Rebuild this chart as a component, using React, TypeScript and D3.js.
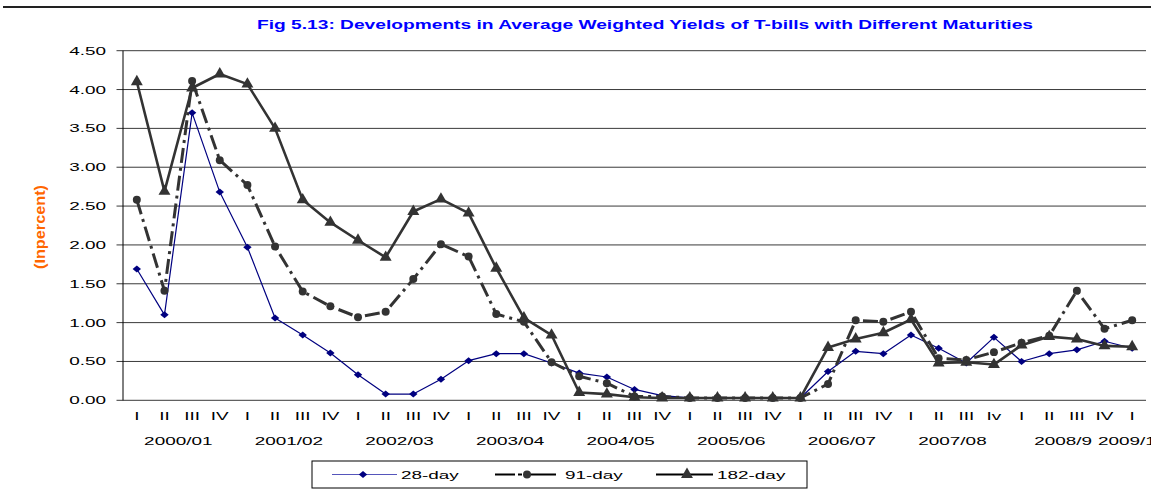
import React from "react";
import * as d3 from "d3";

document.body.style.margin = "0";

const quarterLabels = [
  "I", "II", "III", "IV",
  "I", "II", "III", "IV",
  "I", "II", "III", "IV",
  "I", "II", "III", "IV",
  "I", "II", "III", "IV",
  "I", "II", "III", "IV",
  "I", "II", "III", "IV",
  "I", "II", "III", "Iv",
  "I", "II", "III", "IV",
  "I",
];
const yearLabels = [
  "2000/01", "2001/02", "2002/03", "2003/04", "2004/05",
  "2005/06", "2006/07", "2007/08", "2008/9", "2009/10",
];
const yield28 = [
  1.69, 1.10, 3.70, 2.68, 1.97, 1.06, 0.84, 0.61, 0.33, 0.08, 0.08, 0.27,
  0.51, 0.60, 0.60, 0.48, 0.35, 0.30, 0.14, 0.06, 0.03, 0.03, 0.03, 0.03,
  0.03, 0.37, 0.63, 0.60, 0.84, 0.67, 0.48, 0.81, 0.50, 0.60, 0.65, 0.76, 0.67,
];
const yield91 = [
  2.58, 1.41, 4.11, 3.09, 2.77, 1.98, 1.40, 1.21, 1.07, 1.14, 1.56, 2.01,
  1.85, 1.11, 1.01, 0.49, 0.31, 0.22, 0.05, 0.05, 0.03, 0.03, 0.03, 0.03,
  0.03, 0.21, 1.03, 1.01, 1.14, 0.54, 0.52, 0.62, 0.74, 0.83, 1.41, 0.92, 1.03,
];
const yield182 = [
  4.10, 2.69, 4.02, 4.20, 4.07, 3.50, 2.58, 2.29, 2.06, 1.84, 2.43, 2.59,
  2.41, 1.70, 1.06, 0.84, 0.10, 0.08, 0.04, 0.03, 0.03, 0.03, 0.03, 0.03,
  0.03, 0.68, 0.79, 0.87, 1.04, 0.48, 0.49, 0.46, 0.71, 0.82, 0.79, 0.70, 0.69,
];
const yTicks = [0, 0.5, 1, 1.5, 2, 2.5, 3, 3.5, 4, 4.5];
const seriesNames = ["28-day", "91-day", "182-day"];

const W = 1151;
const H = 492;
const FONT = "'Liberation Sans', Arial, sans-serif";
const SX = 1.72;

function SText({ x, y, anchor = "start", size = 11, children, fill = "#000" }: any) {
  return (
    <text
      transform={`translate(${x},${y}) scale(${SX},1)`}
      textAnchor={anchor}
      fontSize={size}
      fontFamily={FONT}
      fill={fill}
    >
      {children}
    </text>
  );
}

const wideDiamond = {
  draw(ctx: any, size: number) {
    const h = Math.sqrt(size) / 2;
    const w = h * 1.2;
    ctx.moveTo(0, -h);
    ctx.lineTo(w, 0);
    ctx.lineTo(0, h);
    ctx.lineTo(-w, 0);
    ctx.closePath();
  },
};

export default function App() {
  const left = 123;
  const right = 1146;
  const top = 50.7;
  const bottom = 400.3;

  const x = d3
    .scaleBand<number>()
    .domain(d3.range(quarterLabels.length))
    .range([left, right]);
  const cx = (i: number) => (x(i) as number) + x.bandwidth() / 2;
  const y = d3.scaleLinear().domain([0, 4.5]).range([bottom, top]);

  const line = d3
    .line<number>()
    .x((_, i) => cx(i))
    .y((d) => y(d));

  const diamond = d3.symbol().type(wideDiamond as any).size(49)();
  const circle = d3.symbol().type(d3.symbolCircle).size(50)();
  const triangle = d3.symbol().type(d3.symbolTriangle).size(62)();

  const dark = "#333333";
  const navy = "#000080";
  const dash91 = "15,5,3,5";

  const series = [
    { data: yield28, color: navy, width: 1.2, dash: undefined, sym: diamond },
    { data: yield91, color: dark, width: 3, dash: dash91, sym: circle },
    { data: yield182, color: dark, width: 2.6, dash: undefined, sym: triangle },
  ];

  const fmt = d3.format(".2f");

  const legTop = 461;
  const legBottom = 488;
  const legY = (legTop + legBottom) / 2;
  const legItems = [
    { x1: 332, x2: 397, m: 363, tx: 401 },
    { x1: 495, x2: 559, m: 527, tx: 565 },
    { x1: 656, x2: 713, m: 687, tx: 717 },
  ];

  return (
    <svg width={W} height={H} style={{ display: "block" }}>
      <rect x={0} y={0} width={W} height={H} fill="#fff" />
      <line x1={3} x2={W} y1={7} y2={7} stroke="#222" strokeWidth={2} />

      <text
        x={257}
        y={29}
        fontFamily={FONT}
        fontWeight="bold"
        fontSize={12}
        fill="#0000ff"
        textLength={776}
        lengthAdjust="spacingAndGlyphs"
      >
        Fig 5.13: Developments in Average Weighted Yields of T-bills with Different Maturities
      </text>

      <text
        transform={`translate(45,227) rotate(-90)`}
        textAnchor="middle"
        fontFamily={FONT}
        fontWeight="bold"
        fontSize={14}
        fill="#ff6600"
        textLength={84}
        lengthAdjust="spacingAndGlyphs"
      >
        (Inpercent)
      </text>

      {yTicks.map((t) => (
        <g key={t}>
          <line
            x1={116.5}
            x2={right}
            y1={y(t)}
            y2={y(t)}
            stroke="#3a3a3a"
            strokeWidth={1}
          />
          <SText x={106} y={y(t) + 4} anchor="end">
            {fmt(t)}
          </SText>
        </g>
      ))}
      <line x1={left} x2={left} y1={top} y2={bottom} stroke="#000" strokeWidth={1} />

      {quarterLabels.map((q, i) => (
        <SText key={i} x={cx(i)} y={420} anchor="middle">
          {q}
        </SText>
      ))}
      {yearLabels.map((yl, g) => {
        const first = g * 4;
        const last = Math.min(first + 3, quarterLabels.length - 1);
        const c = (cx(first) + cx(last)) / 2;
        return (
          <SText key={yl} x={c} y={444.5} anchor="middle">
            {yl}
          </SText>
        );
      })}

      {series.map((s, k) => (
        <g key={k}>
          <path
            d={line(s.data) || ""}
            fill="none"
            stroke={s.color}
            strokeWidth={s.width}
            strokeDasharray={s.dash}
            strokeLinejoin="round"
          />
          {s.data.map((v, i) => (
            <path
              key={i}
              d={s.sym || ""}
              transform={`translate(${cx(i)},${y(v)})`}
              fill={s.color}
            />
          ))}
        </g>
      ))}

      <rect
        x={312}
        y={legTop}
        width={495}
        height={legBottom - legTop}
        fill="#fff"
        stroke="#000"
        strokeWidth={1}
      />
      {legItems.map((it, k) => {
        const s = series[k];
        return (
          <g key={k}>
            <line
              x1={it.x1}
              x2={it.x2}
              y1={legY}
              y2={legY}
              stroke={k === 0 ? "#5555bb" : "#000"}
              strokeWidth={k === 0 ? 1.2 : 2}
              strokeDasharray={k === 1 ? "20,3,4,6,8,0" : undefined}
            />
            <path d={s.sym || ""} transform={`translate(${it.m},${legY})`} fill={k === 0 ? navy : dark} />
            <SText x={it.tx} y={legY + 4}>
              {seriesNames[k]}
            </SText>
          </g>
        );
      })}
    </svg>
  );
}
